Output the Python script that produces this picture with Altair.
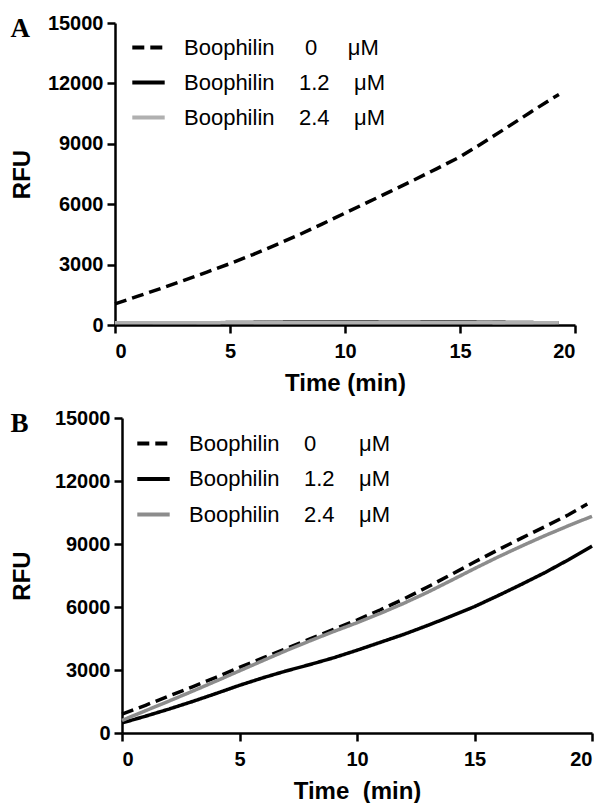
import altair as alt
import pandas as pd

NB = "\u00a0"
labels_a = ["Boophilin" + NB * 5 + "0" + NB * 5 + "μM",
            "Boophilin" + NB * 4 + "1.2" + NB * 4 + "μM",
            "Boophilin" + NB * 4 + "2.4" + NB * 4 + "μM"]
labels_b = ["Boophilin" + NB * 4 + "0" + NB * 7 + "μM",
            "Boophilin" + NB * 4 + "1.2" + NB * 4 + "μM",
            "Boophilin" + NB * 4 + "2.4" + NB * 4 + "μM"]

# Panel A
time_a = [0, 1, 2, 3, 4, 5, 6, 7, 8, 9, 10, 11, 12, 13, 14, 15, 16, 17, 18, 19, 19.3]
a_0 = [1050, 1430, 1820, 2220, 2630, 3050, 3500, 3980, 4480, 5010, 5560, 6100, 6650,
       7200, 7770, 8350, 9050, 9780, 10520, 11250, 11450]
a_12 = [90, 90, 95, 100, 110, 120, 130, 140, 150, 150, 150, 145, 140, 140, 150, 150,
        140, 130, 120, 110, 100]
a_24 = [110, 110, 110, 110, 115, 120, 120, 125, 125, 125, 120, 120, 120, 120, 120, 120,
        120, 115, 115, 110, 110]

# Panel B
time_b = [0, 1, 2, 3, 4, 5, 6, 7, 8, 9, 10, 11, 12, 13, 14, 15, 16, 17, 18, 19, 20]
time_b0 = [0, 1, 2, 3, 4, 5, 6, 7, 8, 9, 10, 11, 12, 13, 14, 15, 16, 17, 18, 19, 19.8]
b_0 = [900, 1320, 1760, 2200, 2650, 3120, 3580, 4030, 4480, 4930, 5380, 5870, 6390,
       6950, 7540, 8140, 8720, 9280, 9830, 10390, 10900]
b_12 = [480, 800, 1140, 1500, 1880, 2270, 2630, 2960, 3260, 3580, 3940, 4320, 4700,
        5120, 5560, 6020, 6540, 7080, 7640, 8250, 8900]
b_24 = [600, 1060, 1520, 1990, 2470, 2960, 3450, 3930, 4390, 4830, 5250, 5700, 6180,
        6700, 7260, 7830, 8380, 8900, 9400, 9870, 10320]

y_ticks = [0, 3000, 6000, 9000, 12000, 15000]
x_ticks = [0, 5, 10, 15, 20]


def frame(times, values, labels):
    rows = []
    for i, (lab, t, v) in enumerate(zip(labels, times, values)):
        for ti, vi in zip(t, v):
            rows.append({"series": lab, "order": i, "Time": ti, "RFU": vi})
    return pd.DataFrame(rows)


df_a = frame([time_a, time_a, time_a], [a_0, a_12, a_24], labels_a)
df_b = frame([time_b0, time_b, time_b], [b_0, b_12, b_24], labels_b)


def panel(df, labels, gray, letter, xtitle, w, h, xrange, yoffset, ypad,
          legend_x, legend_y, row_pad):
    return alt.Chart(df, title=alt.TitleParams(
        letter, anchor="start", frame="bounds", font="Liberation Serif",
        fontSize=27, fontWeight="bold", color="black", offset=-30)).mark_line(
        strokeWidth=3.5, clip=False).encode(
        x=alt.X("Time:Q", scale=alt.Scale(domain=[0, 20], range=xrange),
                axis=alt.Axis(values=x_ticks, title=xtitle, titlePadding=10,
                              labelPadding=8)),
        y=alt.Y("RFU:Q", scale=alt.Scale(domain=[0, 15000]),
                axis=alt.Axis(values=y_ticks, format="d", title="RFU",
                              titlePadding=ypad, labelPadding=4, offset=yoffset)),
        color=alt.Color("series:N", scale=alt.Scale(domain=labels,
                        range=["black", "black", gray]),
                        legend=alt.Legend(orient="none", legendX=legend_x,
                                          legendY=legend_y,
                                          title=None, symbolType="stroke",
                                          symbolSize=1050, symbolStrokeWidth=4,
                                          labelFont="Liberation Sans", labelFontSize=22,
                                          labelColor="black", labelOffset=17,
                                          rowPadding=row_pad, labelLimit=400)),
        strokeDash=alt.StrokeDash("series:N", scale=alt.Scale(domain=labels,
                                  range=[[12, 6], [1, 0], [1, 0]]), legend=None),
        order="order:Q",
        detail="series:N",
    ).properties(width=w, height=h)


chart_a = panel(df_a, labels_a, "#b0b0b0", "A", "Time (min)", 453, 302,
                [-7, 453], 7, 13, 8, 6, 5)
chart_b = panel(df_b, labels_b, "#8c8c8c", "B", "Time" + NB + " (min)", 470, 315,
                [0, 470], 0, 20, 13, 7, 5.5)

chart = alt.vconcat(chart_a, chart_b, spacing=13).resolve_scale(
    color="independent", strokeDash="independent"
).resolve_legend(
    color="independent", strokeDash="independent"
).properties(
    padding={"left": 2, "top": 5, "right": 0, "bottom": 0}
).configure_view(stroke=None).configure_axis(
    domainColor="black", domainWidth=2.5, tickColor="black", tickWidth=2.5,
    tickSize=8, labelFont="Liberation Sans", labelFontWeight="bold",
    labelFontSize=20, labelColor="black",
    titleFont="Liberation Sans", titleFontWeight="bold", titleFontSize=24,
    titleColor="black", grid=False
)

chart.save("out.html", embed_options={"renderer": "svg", "actions": False})
